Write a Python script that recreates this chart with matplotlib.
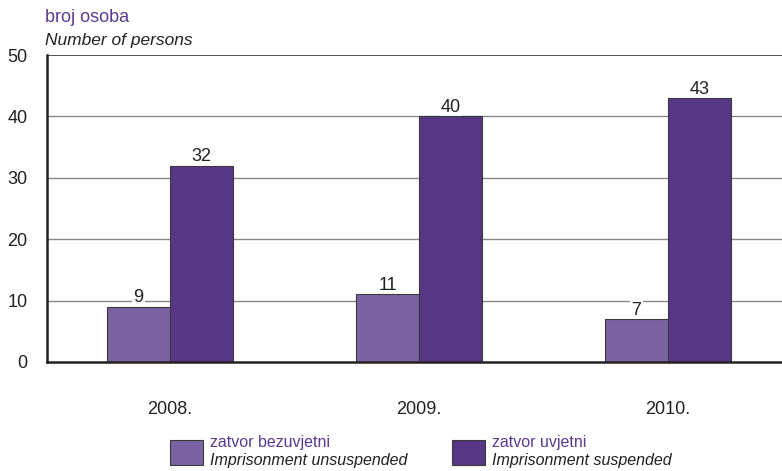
import numpy as np
import matplotlib
matplotlib.use('Agg')
import matplotlib.pyplot as plt
from matplotlib.patches import Rectangle

years = ['2008.', '2009.', '2010.']
unsuspended = [9, 11, 7]
suspended = [32, 40, 43]
yticks = [0, 10, 20, 30, 40, 50]

c_light = '#7B62A3'
c_dark = '#583686'
c_text = '#5B3A92'

plt.rcParams['font.family'] = ['Liberation Sans Narrow', 'Liberation Sans', 'DejaVu Sans']

fig = plt.figure(figsize=(7.82, 4.71), dpi=100)
ax = fig.add_axes([47/782, 109/471, 735/782, 307/471])

x = np.arange(len(years))
w = 0.253
ax.bar(x - w/2, unsuspended, w, color=c_light, edgecolor='#3a3a3a', lw=0.8, zorder=5)
ax.bar(x + w/2, suspended, w, color=c_dark, edgecolor='#3a3a3a', lw=0.8, zorder=5)

for xi, v in zip(x - w/2, unsuspended):
    ax.text(xi, v + 0.7, str(v), ha='center', va='baseline', fontsize=13, color='#222222',
            bbox=dict(facecolor='white', edgecolor='none', pad=1), zorder=4)
for xi, v in zip(x + w/2, suspended):
    ax.text(xi, v + 0.7, str(v), ha='center', va='baseline', fontsize=13, color='#222222',
            bbox=dict(facecolor='white', edgecolor='none', pad=1), zorder=4)

ax.set_xlim(-0.494, 2.458)
ax.set_ylim(0, 50)
ax.set_yticks(yticks)
ax.set_xticks(x)
ax.set_xticklabels(years)
ax.tick_params(axis='both', length=0, labelsize=13, colors='#222222')
ax.tick_params(axis='x', pad=28)
ax.tick_params(axis='y', pad=14)
for t in yticks[1:-1]:
    ax.axhline(t, color='#888888', lw=1, zorder=1)
ax.axhline(50, color='#333333', lw=1.2, zorder=1)
for s in ['top', 'right']:
    ax.spines[s].set_visible(False)
ax.spines['left'].set_color('#222222')
ax.spines['left'].set_linewidth(1.8)
ax.spines['left'].set_zorder(6)
ax.spines['bottom'].set_color('#222222')
ax.spines['bottom'].set_linewidth(1.8)
ax.spines['bottom'].set_zorder(6)

fig.text(45/782, 1 - 18/471, 'broj osoba', color=c_text, fontsize=13, va='center', ha='left')
fig.text(45/782, 1 - 40/471, 'Number of persons', color='#222222', fontsize=12.5,
         style='italic', va='center', ha='left')

# legend
legend_items = [('zatvor bezuvjetni', 'Imprisonment unsuspended', c_light, 170),
                ('zatvor uvjetni', 'Imprisonment suspended', c_dark, 452)]
for top, bottom, col, px in legend_items:
    fig.patches.append(Rectangle((px/782, 1 - 465/471), 33/782, 25/471, transform=fig.transFigure,
                                 facecolor=col, edgecolor='#3a3a3a', lw=0.8))
    fig.text((px + 40)/782, 1 - 442/471, top, color=c_text, fontsize=11.5, va='center', ha='left')
    fig.text((px + 40)/782, 1 - 461/471, bottom, color='#222222', fontsize=11.5,
             style='italic', va='center', ha='left')

fig.savefig('out.png', dpi=100)
